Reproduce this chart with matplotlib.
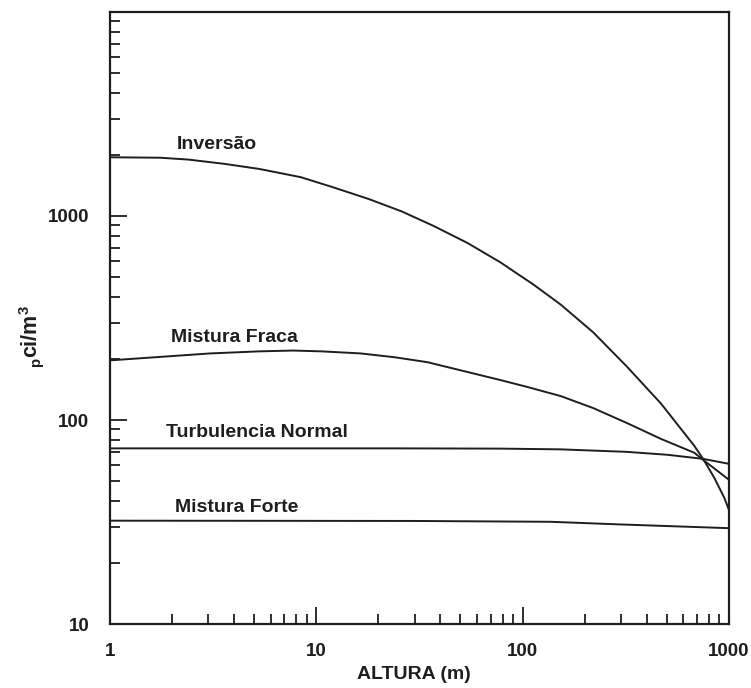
import numpy as np
import matplotlib
matplotlib.use('Agg')
import matplotlib.pyplot as plt
from matplotlib.ticker import LogLocator, FixedLocator, NullFormatter

# concentration (pCi/m3) versus height (m) for each stability class
inversao_x = [1, 1.75, 2.4, 3.6, 5.3, 8.4, 12, 18, 26, 37, 54, 78, 113, 153, 220, 320,
			  470, 680, 750, 850, 950, 1000]
inversao_y = [1940, 1930, 1890, 1800, 1700, 1550, 1385, 1210, 1052, 894, 738, 593, 461, 368,
			  269, 183, 120, 74.7, 64.5, 52.1, 41.6, 36.4]

fraca_x = [1, 3.06, 5.3, 7.7, 10.6, 16.4, 24, 34.6, 78, 106, 153, 220, 320, 470, 680, 750, 1000]
fraca_y = [196, 212, 217, 219, 217, 212, 203, 192, 157, 145, 131, 114.4, 96.7, 80.7, 69.1, 63.8, 51]

normal_x = [1, 25.6, 78, 153, 320, 506, 750, 1000]
normal_y = [72.6, 72.6, 72.4, 71.8, 69.8, 67.5, 64.5, 61]

forte_x = [1, 30, 137, 289, 1000]
forte_y = [32.1, 32.0, 31.7, 30.8, 29.5]

series_names = ['Inversão', 'Mistura Fraca', 'Turbulencia Normal', 'Mistura Forte']
# label anchor (left edge, centre) in data coordinates
label_x = [2.11, 1.97, 1.87, 2.06]
label_y = [2244, 254, 86.4, 37.2]

x_ticks = [1, 10, 100, 1000]
y_ticks = [10, 100, 1000]

def main():
	plt.rcParams['font.family'] = ['Liberation Sans', 'DejaVu Sans']
	plt.rcParams['font.weight'] = 'bold'
	plt.rcParams['mathtext.fontset'] = 'custom'
	plt.rcParams['mathtext.rm'] = 'Liberation Sans:bold'
	plt.rcParams['mathtext.it'] = 'Liberation Sans:bold'
	plt.rcParams['mathtext.bf'] = 'Liberation Sans:bold'

	fig = plt.figure(figsize=(7.51, 6.88), dpi=100)
	ax = fig.add_axes([0.1465, 0.093, 0.824, 0.8896])

	ink = '#1e1e1e'
	xs = [inversao_x, fraca_x, normal_x, forte_x]
	ys = [inversao_y, fraca_y, normal_y, forte_y]
	for x, y in zip(xs, ys):
		ax.plot(x, y, color=ink, lw=1.4)

	for name, tx, ty in zip(series_names, label_x, label_y):
		ax.text(tx, ty, name, ha='left', va='center', fontsize=14,
				fontweight='bold', color=ink)

	ax.set_xscale('log')
	ax.set_yscale('log')
	ax.set_xlim(1, 1000)
	ax.set_ylim(10, 10000)

	ax.xaxis.set_major_locator(FixedLocator(x_ticks))
	ax.yaxis.set_major_locator(FixedLocator(y_ticks + [10000]))
	ax.xaxis.set_minor_locator(LogLocator(base=10, subs=np.arange(2, 10)))
	ax.yaxis.set_minor_locator(LogLocator(base=10, subs=np.arange(2, 10)))
	ax.xaxis.set_minor_formatter(NullFormatter())
	ax.yaxis.set_minor_formatter(NullFormatter())
	ax.set_xticklabels([str(t) for t in x_ticks])
	ax.set_yticklabels([str(t) for t in y_ticks] + [''])

	ax.tick_params(which='both', direction='in', top=False, right=False,
				   color=ink, width=1.3, labelsize=13.5, labelcolor=ink)
	ax.tick_params(which='major', length=12)
	ax.tick_params(which='minor', length=7)
	ax.tick_params(axis='x', pad=14)
	ax.tick_params(axis='y', pad=15)

	for sp in ax.spines.values():
		sp.set_linewidth(1.6)
		sp.set_color(ink)

	ax.set_xlabel('ALTURA (m)', fontsize=14, fontweight='bold', color=ink)
	ax.set_ylabel(r'$_{\mathrm{p}}$ci/m$^{\mathrm{3}}$', fontsize=15.5, fontweight='bold', color=ink)
	ax.xaxis.set_label_coords(0.491, -0.068)
	ax.yaxis.set_label_coords(-0.103, 0.469)

	fig.savefig('out.png', dpi=100)
	return

if __name__ == '__main__':
	main()
